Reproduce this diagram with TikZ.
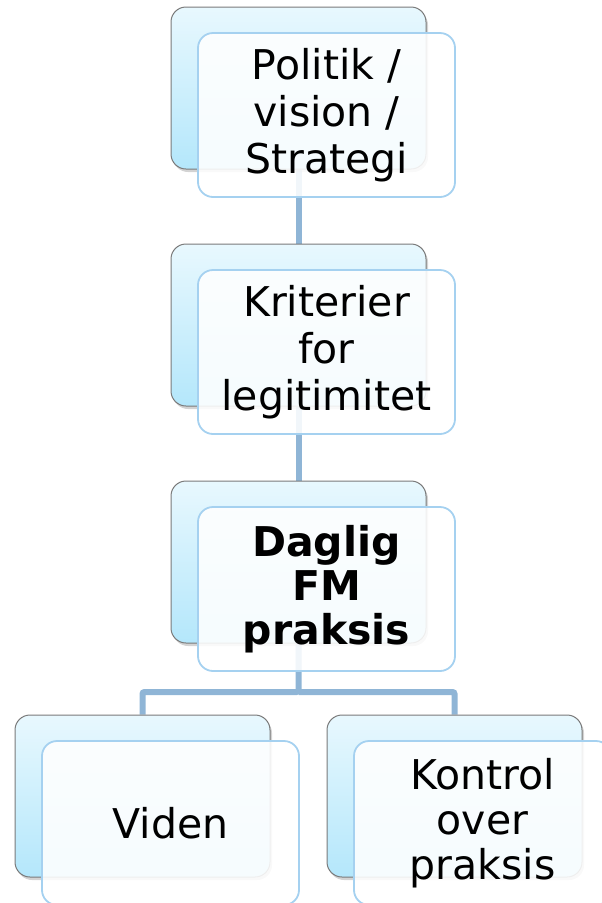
\documentclass[tikz,border=0pt]{standalone}
\usepackage{fontspec}
\setmainfont{DejaVu Sans}
\usetikzlibrary{positioning}
\usetikzlibrary{shadows}
\usetikzlibrary{backgrounds}
\definecolor{boxtop}{HTML}{E8F8FE}
\definecolor{boxbottom}{HTML}{B4E7FB}
\definecolor{boxline}{HTML}{7A7A7A}
\definecolor{frontline}{HTML}{A5D1F0}
\definecolor{linkblue}{HTML}{8FB5D6}

\begin{document}
\begin{tikzpicture}[x=1pt,y=-1pt,
  backbox/.style={draw=boxline,line width=1pt,rounded corners=15pt,
    top color=boxtop,bottom color=boxbottom,
    minimum width=255pt,minimum height=162pt,
    drop shadow={shadow xshift=2pt,shadow yshift=-3pt,opacity=0.35}},
  frontbox/.style={draw=frontline,line width=1.8pt,rounded corners=15pt,
    fill=white,fill opacity=0.88,text opacity=1,
    minimum width=257pt,minimum height=164pt,align=center,
    font=\fontsize{41}{47}\selectfont},
  link/.style={draw=linkblue,line width=6pt,rounded corners=2pt},
  node distance=74pt]
  \useasboundingbox (0,0) rectangle (602,903);
  % the back boxes
  \node[backbox] (politikbg) at (298.5,88) {};
  \node[backbox,below=of politikbg] (kriterierbg) {};
  \node[backbox,below=of kriterierbg] (dagligbg) {};
  \node[backbox] (videnbg) at (142.5,796) {};
  \node[backbox] (kontrolbg) at (454.5,796) {};
  % the front boxes
  \node[frontbox] (politik) at ([shift={(28,27)}]politikbg.center) {Politik /\\vision /\\Strategi};
  \node[frontbox] (kriterier) at ([shift={(28,27)}]kriterierbg.center) {Kriterier\\for\\legitimitet};
  \node[frontbox,font=\fontsize{41}{44}\selectfont\bfseries] (daglig) at ([shift={(28,27)}]dagligbg.center) {Daglig\\FM\\praksis};
  \node[frontbox] (viden) at ([shift={(28,27)}]videnbg.center) {Viden};
  \node[frontbox,font=\fontsize{41}{45}\selectfont] (kontrol) at ([shift={(28,27)}]kontrolbg.center) {Kontrol\\over\\praksis};
  % the edges
  \coordinate (fork) at (298.5,692);
  \begin{scope}[on background layer]
    \draw[link] (politikbg.south) -- (kriterierbg.north);
    \draw[link] (kriterierbg.south) -- (dagligbg.north);
    \draw[link] (dagligbg.south) -- (fork) -| (videnbg.north);
    \draw[link] (fork) -| (kontrolbg.north);
  \end{scope}
\end{tikzpicture}
\end{document}
